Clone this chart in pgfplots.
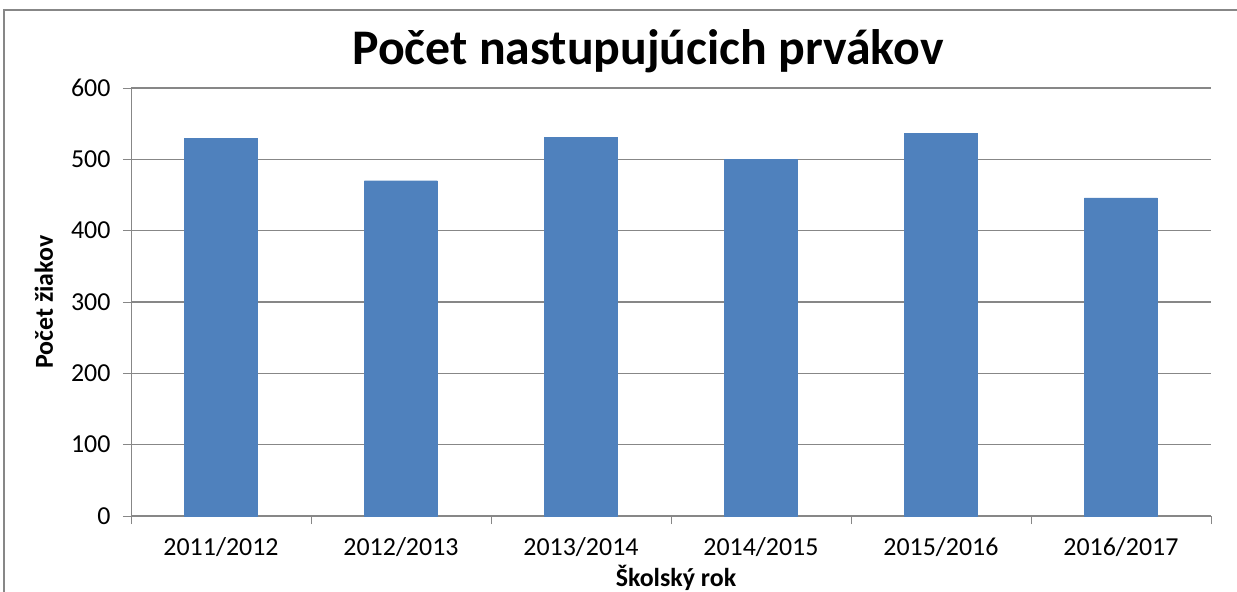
\documentclass[border=0pt]{standalone}
\usepackage{fontspec}
\setmainfont{Carlito}
\usepackage{pgfplots}
\pgfplotsset{compat=1.18}
\definecolor{barblue}{HTML}{4F81BD}
\definecolor{gridgray}{HTML}{878787}
\begin{document}
\begin{tikzpicture}
\useasboundingbox (-131bp,-76bp) rectangle (1106bp,516bp);
\draw[gridgray, line width=1.5bp] (-127bp,-76bp) -- (-127bp,506bp) -- (1106bp,506bp);
\begin{axis}[
  at={(0,0)}, anchor=south west,
  width=1080bp, height=428bp, scale only axis,
  xmin=0.5, xmax=6.5, ymin=0, ymax=600,
  axis lines=left,
  axis line style={-, gridgray, line width=0.8bp},
  xtick={0.5,1.5,...,6.5},
  x tick label as interval,
  xticklabels={2011/2012,2012/2013,2013/2014,2014/2015,2015/2016,2016/2017},
  ytick={0,100,...,600},
  ymajorgrids,
  grid style={gridgray, line width=1.2bp},
  tick align=outside,
  major tick length=8bp,
  tick style={gridgray, line width=0.8bp},
  /pgf/number format/assume math mode=true,
  tick label style={font=\fontsize{26}{30}\selectfont, black},
  yticklabel style={xshift=-9bp},
  xticklabel style={yshift=-10bp},
  ylabel={\textbf{Počet žiakov}},
  xlabel={\textbf{Školský rok}},
  label style={font=\fontsize{26}{30}\selectfont},
  ylabel style={at={(-87bp,214bp)}, anchor=center},
  xlabel style={at={(545bp,-62bp)}, anchor=center},
  title={\textbf{Počet nastupujúcich prvákov}},
  title style={font=\fontsize{50}{58}\selectfont, at={(517bp,459bp)}, anchor=center},
  clip=false,
]
\addplot[ybar, bar width=73bp, fill=barblue, draw=barblue] coordinates {
  (1,529) (2,470) (3,531) (4,500) (5,536) (6,446)
};
\end{axis}
\end{tikzpicture}
\end{document}
